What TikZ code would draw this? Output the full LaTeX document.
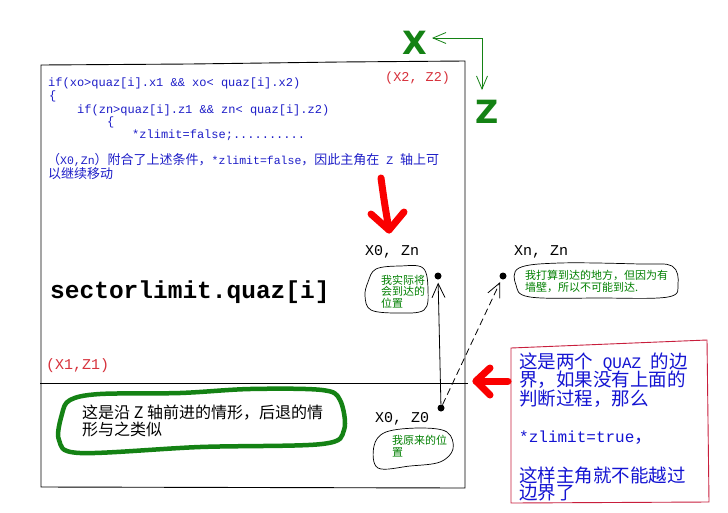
\documentclass[tikz,border=0pt]{standalone}
\usepackage{fontspec}
\setmainfont{Liberation Serif}
\setmonofont{Liberation Mono}
\newfontfamily\cjk{Noto Sans CJK SC}
\newfontfamily\axisfont{DejaVu Sans}
\usetikzlibrary{arrows.meta}
\definecolor{codeblue}{RGB}{30,30,200}
\definecolor{boxblue}{RGB}{20,20,210}
\definecolor{tgreen}{RGB}{0,128,0}
\definecolor{pgreen}{RGB}{20,130,20}
\definecolor{lblred}{RGB}{215,50,60}
\definecolor{boxred}{RGB}{200,30,60}
\definecolor{pred}{RGB}{250,0,0}
\begin{document}
\begin{tikzpicture}[x=1pt,y=-1pt,
  every node/.style={inner sep=0pt, anchor=west},
  code/.style={font=\fontsize{12}{13}\selectfont\ttfamily, text=codeblue},
  codezh/.style={font=\fontsize{13}{14}\selectfont\cjk, text=codeblue},
  lbl/.style={font=\fontsize{15}{15}\selectfont\ttfamily, text=black},
  redlbl/.style={font=\fontsize{15}{15}\selectfont\ttfamily, text=lblred},
  bub/.style={font=\fontsize{11}{11.5}\selectfont\cjk, text=tgreen, align=left},
  bubble/.style={line width=0.7pt, black},
  blobtxt/.style={font=\fontsize{16}{16}\selectfont\cjk, text=black},
  boxtxt/.style={font=\fontsize{18.5}{18.5}\selectfont\cjk, text=boxblue},
  axislbl/.style={font=\fontsize{32}{32}\selectfont\axisfont\bfseries, text=pgreen, anchor=center},
  axisarrow/.style={-{Straight Barb[length=13pt,width=11pt]}, line width=0.8pt, pgreen},
  ptr/.style={-{Straight Barb[length=14pt,width=13pt]}, line width=0.8pt, black, shorten >=3pt},
  dot/.style={circle, fill=black, minimum size=7pt, inner sep=0pt, anchor=center},
  redpen/.style={line width=7pt, pred, line cap=round, line join=round}
]
\useasboundingbox (0,0) rectangle (728,512);
\fill[white] (0,0) rectangle (728,512);

% main frame
\draw[line width=0.9pt] (41,65) -- (190,64) -- (340,62) -- (465,61) -- (465,488) -- (41,487) -- cycle;
\draw[line width=0.9pt] (40,383) -- (468,383);

% axes
\node[axislbl] (X) at (415,43) {X};
\node[axislbl] (Z) at (487,112) {Z};
\coordinate (corner) at (482,38);
\coordinate (xtip) at (432,38);
\coordinate (ztip) at (482,90);
\draw[axisarrow] (corner) -- (xtip);
\draw[axisarrow] (corner) -- (ztip);

% code text
\node[code] (c1) at (48,83) {if(xo>quaz[i].x1 \&\& xo< quaz[i].x2)};
\node[code] (c2) at (49,96) {\{};
\node[code] (c3) at (77,110) {if(zn>quaz[i].z1 \&\& zn< quaz[i].z2)};
\node[code] (c4) at (107,122) {\{};
\node[code] (c5) at (132,135) {*zlimit=false;..........};
\node[codezh] (c6) at (47,160) {（{\fontsize{11.5}{13}\selectfont\ttfamily X0,Zn}）附合了上述条件，{\fontsize{11.5}{13}\selectfont\ttfamily *zlimit=false}，因此主角在{\fontsize{11.5}{13}\selectfont\ttfamily\ Z\ }轴上可};
\node[codezh] (c7) at (48,174) {以继续移动};

\node[redlbl, font=\fontsize{13.5}{14}\selectfont\ttfamily] (x2z2) at (385,78) {(X2, Z2)};
\node[redlbl] (x1z1) at (46,366) {(X1,Z1)};

\node[font=\fontsize{24.5}{25}\selectfont\ttfamily\bfseries] (sl) at (50,292) {sectorlimit.quaz[i]};

% positions
\node[lbl] (l1) at (365,252) {X0, Zn};
\node[lbl] (l2) at (514,252) {Xn, Zn};
\node[lbl] (l0) at (375,419) {X0, Z0};
\node[dot] (p1) at (438,276) {};
\node[dot] (p2) at (503,276) {};
\node[dot] (p0) at (441,408) {};
\draw[ptr] (p0) -- (p1);
\draw[ptr, dash pattern=on 7pt off 4pt] (p0) -- (p2);

% bubbles
\node[bub] (b1) at (381,291.5) {我实际将\\会到达的\\位置};
\draw[bubble] plot[smooth cycle, tension=0.6] coordinates {(368,282) (376,269) (400,266) (423,268) (428,290) (424,310) (398,313) (371,310) (365,296)};
\node[bub] (b2) at (525,281.5) {我打算到达的地方，但因为有\\墙壁，所以不可能到达.};
\draw[bubble] plot[smooth cycle, tension=0.6] coordinates {(519,268) (560,263) (640,264) (672,266) (678,284) (668,297) (600,298) (530,297) (516,285)};
\node[bub] (b3) at (392,446) {我原来的位\\置};
\draw[bubble] plot[smooth cycle, tension=0.6] coordinates {(386,432) (420,428) (447,432) (453,449) (440,462) (410,466) (378,468) (374,446)};

% green blob
\node[blobtxt] (g1) at (82,413) {这是沿 Z 轴前进的情形，后退的情};
\node[blobtxt] (g2) at (82,429) {形与之类似};
\draw[line width=4.5pt, pgreen, line join=round] plot[smooth cycle, tension=0.55] coordinates {(70,400) (100,394) (180,393) (250,389) (322,390) (340,400) (344,430) (322,444) (200,447) (80,453) (59,440) (62,414)};

% red box
\draw[boxred, line width=0.9pt] (511,348) -- (707,340) -- (709,502) -- (511,503) -- cycle;
\node[boxtxt] (r1) at (519,362) {这是两个{\fontsize{16}{18}\selectfont\ttfamily\ QUAZ\ }的边};
\node[boxtxt] (r2) at (519,380) {界，如果没有上面的};
\node[boxtxt] (r3) at (519,399) {判断过程，那么};
\node[boxtxt] (r4) at (519,438) {{\fontsize{16}{18}\selectfont\ttfamily *zlimit=true}，};
\node[boxtxt] (r5) at (519,475) {这样主角就不能越过};
\node[boxtxt] (r6) at (519,493) {边界了};

% red hand-drawn arrows
\coordinate (a1s) at (381,178);
\coordinate (a1t) at (389,230);
\draw[redpen] (a1s) .. controls (384,200) .. (a1t);
\draw[redpen] (371,214) -- (a1t) -- (404,212);
\coordinate (a2s) at (508,381);
\coordinate (a2t) at (476,381);
\draw[redpen] (a2s) -- (a2t);
\draw[redpen] (490,368) -- (a2t) -- (490,395);
\end{tikzpicture}
\end{document}
